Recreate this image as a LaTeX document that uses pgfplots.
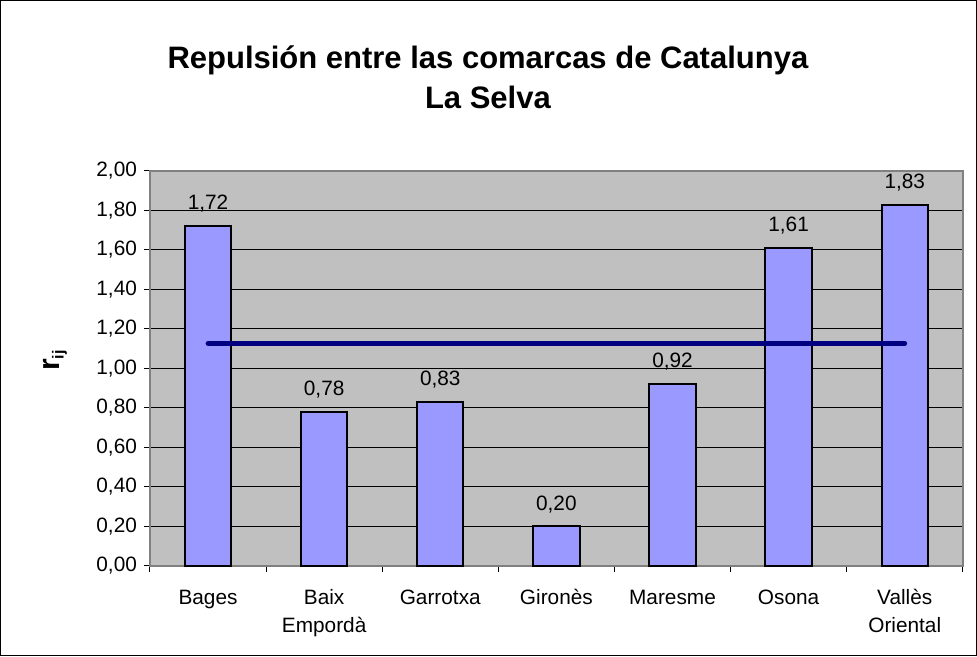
\documentclass[border=0pt]{standalone}
\usepackage{pgfplots}
\pgfplotsset{compat=1.18}
\usepackage{fontspec}
\setmainfont{Liberation Sans}
\definecolor{barblue}{HTML}{9999FF}
\definecolor{plotgray}{HTML}{C0C0C0}
\definecolor{navyline}{HTML}{000080}
\begin{document}
\begin{tikzpicture}
\begin{axis}[
    scale only axis,
    width=406.5pt, height=197.5pt,
    xmin=-0.5, xmax=6.5,
    ymin=0, ymax=2,
    axis background/.style={fill=plotgray},
    axis line style={draw=gray, line width=0.9pt},
    ytick={0,0.2,...,2.01},
    ymajorgrids,
    major grid style={black, line width=0.5pt},
    xtick={0,...,6},
    xticklabels={\strut Bages,{\strut Baix\\Empordà},\strut Garrotxa,\strut Gironès,\strut Maresme,\strut Osona,{\strut Vallès\\Oriental}},
    x tick label style={align=center, anchor=north, yshift=-3pt},
    minor xtick={-0.5,0.5,...,6.5},
    major x tick style={draw=none},
    minor tick length=3pt,
    major tick length=3pt,
    tick align=outside,
    tick style={black, line width=0.5pt},
    xtick pos=bottom, ytick pos=left,
    ticklabel style={font=\fontsize{10.4}{14}\selectfont},
    y tick label style={/pgf/number format/fixed, /pgf/number format/fixed zerofill,
      /pgf/number format/precision=2, /pgf/number format/use comma,
      /pgf/number format/assume math mode=true},
    clip=false,
]
\addplot[ybar, bar width=0.4, fill=barblue, draw=black, line width=1pt,
    nodes near coords,
    nodes near coords style={black, font=\fontsize{10.4}{12}\selectfont, yshift=3pt,
      /pgf/number format/fixed, /pgf/number format/fixed zerofill,
      /pgf/number format/precision=2, /pgf/number format/use comma,
      /pgf/number format/assume math mode=true}]
  coordinates {(0,1.72) (1,0.78) (2,0.83) (3,0.20) (4,0.92) (5,1.61) (6,1.83)};
\addplot[navyline, line width=2.4pt, line cap=round, mark=none]
  coordinates {(0,1.127) (6,1.127)};
\end{axis}
\draw[black, line width=0.6pt] (-74.7pt,-45pt) rectangle (413.3pt,282.7pt);
\node[align=center, font=\fontsize{15.5}{20}\bfseries\selectfont] at (169pt,244.5pt)
  {Repulsión entre las comarcas de Catalunya\\La Selva};
\node[rotate=90, font=\fontsize{15}{16}\bfseries\selectfont] at (-47.5pt,103pt)
  {r\textsubscript{\fontsize{8}{9}\selectfont ij}};
\end{tikzpicture}
\end{document}
